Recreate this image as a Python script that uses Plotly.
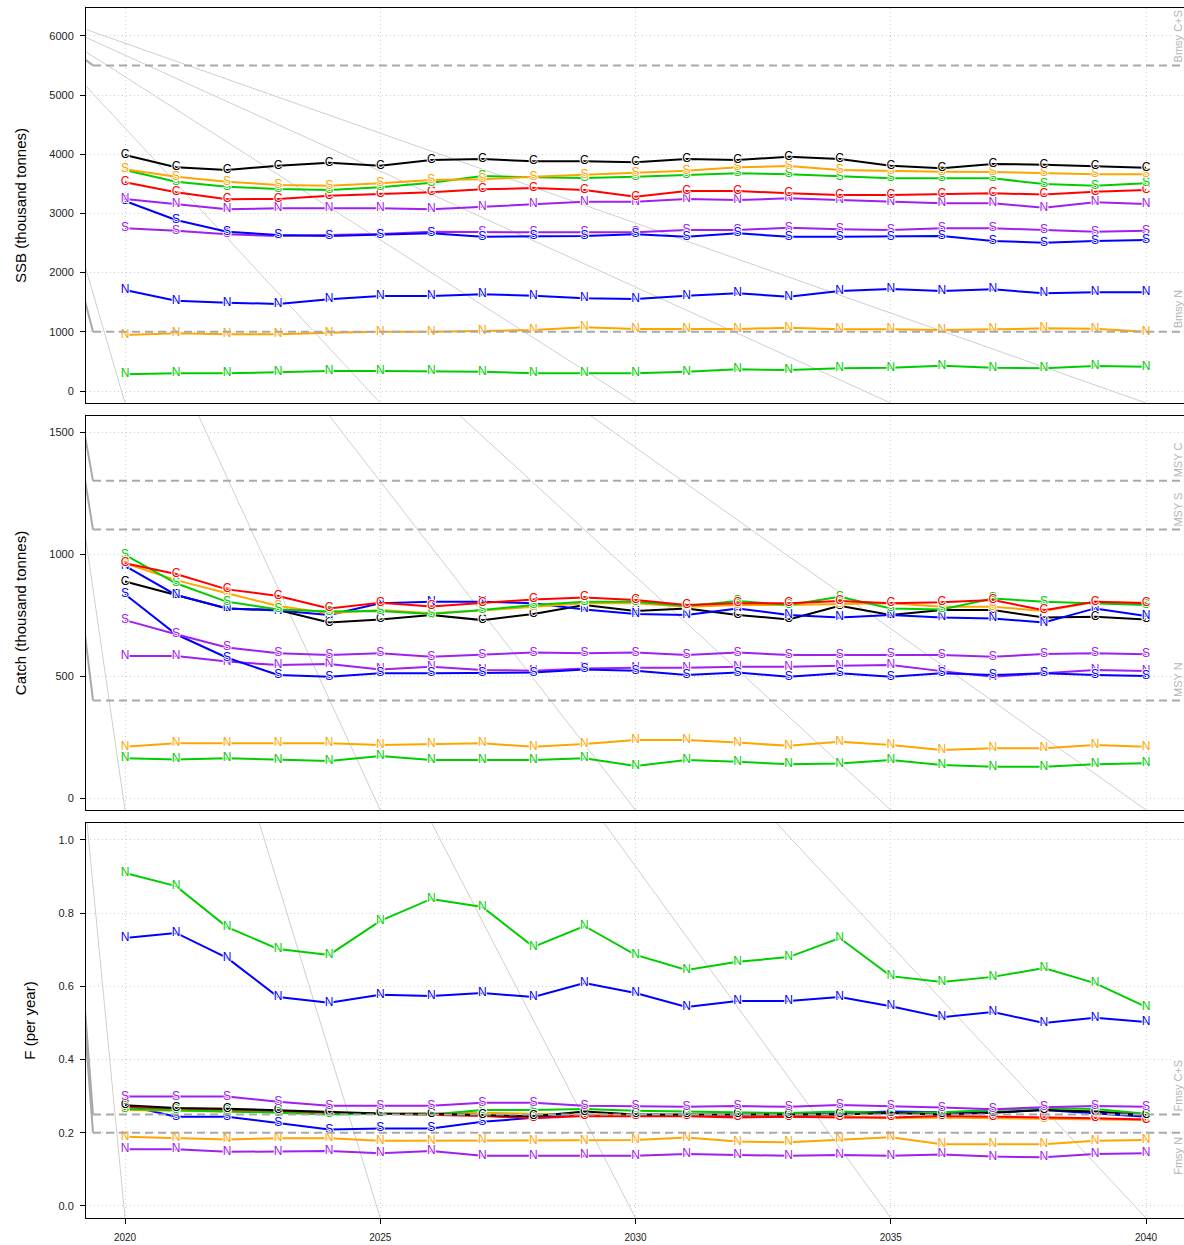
import plotly.graph_objects as go
from plotly.subplots import make_subplots

YEARS = list(range(2020, 2041))
X_TICKS = [2020, 2025, 2030, 2035, 2040]

# ---------------- SSB (thousand tonnes) ----------------
SSB_BLACK_C = [3986, 3779, 3733, 3806, 3857, 3806, 3902, 3919, 3880, 3880, 3863, 3919, 3902, 3958, 3919, 3806, 3762, 3834, 3823, 3800, 3772]
SSB_RED_C = [3525, 3356, 3238, 3245, 3300, 3322, 3356, 3406, 3429, 3395, 3283, 3378, 3378, 3339, 3311, 3311, 3322, 3339, 3320, 3367, 3395]
SSB_ORANGE_S = [3745, 3620, 3536, 3480, 3468, 3508, 3564, 3575, 3620, 3654, 3677, 3722, 3778, 3800, 3733, 3716, 3705, 3700, 3677, 3660, 3660]
SSB_GREEN_S = [3733, 3536, 3451, 3412, 3395, 3440, 3519, 3632, 3609, 3598, 3620, 3648, 3677, 3660, 3620, 3592, 3592, 3592, 3497, 3468, 3508]
SSB_BLUE_S = [3209, 2889, 2691, 2635, 2618, 2635, 2663, 2607, 2618, 2618, 2646, 2607, 2663, 2607, 2607, 2607, 2618, 2534, 2505, 2534, 2551]
SSB_PURPLE_S = [2748, 2708, 2646, 2618, 2635, 2652, 2691, 2680, 2680, 2680, 2680, 2720, 2720, 2759, 2731, 2720, 2748, 2748, 2720, 2691, 2708]
SSB_ORANGE_N = [946, 974, 957, 957, 985, 1002, 1002, 1013, 1030, 1075, 1047, 1047, 1047, 1069, 1041, 1041, 1030, 1041, 1058, 1052, 1002]
SSB_GREEN_N = [281, 298, 298, 315, 338, 338, 338, 326, 298, 298, 298, 326, 366, 355, 383, 394, 428, 394, 383, 422, 411]
SSB_BLUE_N = [1706, 1525, 1492, 1470, 1549, 1605, 1605, 1633, 1610, 1566, 1554, 1610, 1650, 1593, 1689, 1723, 1689, 1717, 1650, 1667, 1667]
SSB_PURPLE_N = [3243, 3153, 3069, 3086, 3086, 3086, 3069, 3114, 3153, 3198, 3198, 3243, 3226, 3255, 3226, 3198, 3170, 3170, 3097, 3187, 3159]

# ---------------- Catch (thousand tonnes) ----------------
CATCH_BLACK_C = [887, 832, 777, 770, 719, 732, 750, 729, 754, 791, 766, 777, 750, 732, 788, 750, 770, 770, 740, 743, 732]
CATCH_RED_C = [962, 918, 855, 828, 777, 800, 785, 800, 814, 822, 811, 791, 798, 798, 807, 798, 802, 811, 770, 804, 798]
CATCH_ORANGE_S = [962, 893, 839, 787, 757, 770, 757, 768, 784, 798, 798, 784, 791, 791, 795, 798, 784, 784, 766, 804, 800]
CATCH_GREEN_S = [996, 880, 804, 773, 764, 766, 754, 770, 791, 804, 804, 787, 807, 791, 825, 777, 773, 818, 804, 798, 791]
CATCH_BLUE_S = [835, 671, 575, 504, 497, 511, 511, 511, 514, 527, 522, 504, 514, 497, 511, 497, 511, 504, 511, 504, 500]
CATCH_PURPLE_S = [729, 671, 617, 593, 586, 593, 579, 586, 596, 593, 596, 586, 596, 586, 586, 589, 586, 579, 590, 593, 589]
CATCH_ORANGE_N = [210, 224, 224, 224, 224, 217, 221, 224, 210, 221, 238, 238, 227, 214, 231, 217, 197, 204, 204, 217, 210]
CATCH_GREEN_N = [163, 158, 163, 156, 152, 172, 156, 156, 156, 163, 131, 156, 149, 138, 141, 156, 135, 128, 128, 138, 142]
CATCH_BLUE_N = [951, 832, 777, 768, 750, 798, 804, 804, 798, 773, 754, 750, 777, 750, 740, 750, 740, 736, 719, 777, 746]
CATCH_PURPLE_N = [582, 582, 559, 545, 549, 527, 538, 525, 522, 531, 534, 534, 538, 538, 542, 545, 520, 497, 511, 525, 520]

# ---------------- F (per year) ----------------
F_BLACK_C = [0.275, 0.268, 0.266, 0.262, 0.256, 0.253, 0.252, 0.248, 0.245, 0.258, 0.250, 0.250, 0.250, 0.248, 0.250, 0.254, 0.250, 0.255, 0.262, 0.258, 0.248]
F_RED_C = [0.270, 0.266, 0.264, 0.260, 0.255, 0.252, 0.250, 0.246, 0.240, 0.246, 0.245, 0.245, 0.242, 0.244, 0.242, 0.242, 0.246, 0.244, 0.244, 0.240, 0.236]
F_ORANGE_S = [0.262, 0.260, 0.260, 0.258, 0.254, 0.252, 0.253, 0.255, 0.252, 0.250, 0.247, 0.249, 0.247, 0.245, 0.245, 0.240, 0.242, 0.240, 0.238, 0.238, 0.235]
F_GREEN_S = [0.265, 0.262, 0.260, 0.255, 0.250, 0.252, 0.250, 0.262, 0.262, 0.265, 0.260, 0.258, 0.255, 0.254, 0.258, 0.254, 0.256, 0.262, 0.268, 0.265, 0.252]
F_BLUE_S = [0.276, 0.244, 0.244, 0.226, 0.209, 0.212, 0.212, 0.230, 0.241, 0.249, 0.246, 0.246, 0.246, 0.249, 0.253, 0.258, 0.256, 0.256, 0.262, 0.253, 0.244]
F_PURPLE_S = [0.299, 0.299, 0.299, 0.285, 0.274, 0.274, 0.274, 0.282, 0.282, 0.274, 0.273, 0.271, 0.273, 0.271, 0.276, 0.273, 0.269, 0.264, 0.270, 0.273, 0.271]
F_ORANGE_N = [0.189, 0.185, 0.182, 0.185, 0.185, 0.178, 0.178, 0.180, 0.178, 0.178, 0.180, 0.187, 0.176, 0.174, 0.182, 0.188, 0.169, 0.169, 0.169, 0.178, 0.180]
F_GREEN_N = [0.910, 0.874, 0.762, 0.702, 0.686, 0.779, 0.839, 0.817, 0.708, 0.765, 0.686, 0.645, 0.667, 0.680, 0.732, 0.628, 0.612, 0.626, 0.650, 0.609, 0.544]
F_BLUE_N = [0.732, 0.746, 0.678, 0.571, 0.555, 0.577, 0.574, 0.582, 0.571, 0.609, 0.582, 0.544, 0.560, 0.560, 0.571, 0.546, 0.516, 0.530, 0.500, 0.514, 0.503]
F_PURPLE_N = [0.155, 0.155, 0.148, 0.148, 0.150, 0.144, 0.150, 0.137, 0.137, 0.139, 0.137, 0.142, 0.139, 0.137, 0.139, 0.137, 0.141, 0.135, 0.133, 0.142, 0.144]

# reference levels
SSB_REFS = [5500, 1000]
SSB_REF_LABELS = ["Bmsy C+S", "Bmsy N"]
CATCH_REFS = [1300, 1100, 400]
CATCH_REF_LABELS = ["MSY C", "MSY S", "MSY N"]
F_REFS = [0.25, 0.20]
F_REF_LABELS = ["Fmsy C+S", "Fmsy N"]

Y_TITLES = ["SSB (thousand tonnes)", "Catch (thousand tonnes)", "F (per year)"]

COL = {"black": "#000000", "red": "#ff0000", "orange": "#ffa500",
       "green": "#00cd00", "blue": "#0000ff", "purple": "#a020f0"}

panels = [
    [("green", "N", SSB_GREEN_N), ("orange", "N", SSB_ORANGE_N), ("blue", "N", SSB_BLUE_N),
     ("purple", "S", SSB_PURPLE_S), ("blue", "S", SSB_BLUE_S), ("purple", "N", SSB_PURPLE_N),
     ("red", "C", SSB_RED_C), ("green", "S", SSB_GREEN_S), ("orange", "S", SSB_ORANGE_S),
     ("black", "C", SSB_BLACK_C)],
    [("green", "N", CATCH_GREEN_N), ("orange", "N", CATCH_ORANGE_N), ("purple", "N", CATCH_PURPLE_N),
     ("blue", "S", CATCH_BLUE_S), ("purple", "S", CATCH_PURPLE_S), ("black", "C", CATCH_BLACK_C),
     ("blue", "N", CATCH_BLUE_N), ("orange", "S", CATCH_ORANGE_S), ("green", "S", CATCH_GREEN_S),
     ("red", "C", CATCH_RED_C)],
    [("purple", "N", F_PURPLE_N), ("orange", "N", F_ORANGE_N), ("blue", "S", F_BLUE_S),
     ("orange", "S", F_ORANGE_S), ("red", "C", F_RED_C), ("green", "S", F_GREEN_S),
     ("black", "C", F_BLACK_C), ("purple", "S", F_PURPLE_S), ("blue", "N", F_BLUE_N),
     ("green", "N", F_GREEN_N)],
]

# ---------------- geometry (page pixels; body margin removed in post_script) ----------------
W, H = 1184, 1245
PLOT_L, PLOT_R, PLOT_T, PLOT_B = 86, 1184, 8, 1218
ML, MR, MT, MB = PLOT_L, W - PLOT_R, PLOT_T, H - PLOT_B
X_RANGE = [2019.236, 2040.744]
Y_RANGES = [[-202.7, 6469.6], [-49.2, 1565.6], [-0.0328, 1.0464]]
PANEL_PX = [(8, 403), (416, 810), (823, 1218)]   # top, bottom pixel rows
Y_TICKS = [list(range(0, 6001, 1000)), [0, 500, 1000, 1500], [0.0, 0.2, 0.4, 0.6, 0.8, 1.0]]
Y_TICKTEXT = [None, None, ["0.0", "0.2", "0.4", "0.6", "0.8", "1.0"]]

plot_h = PLOT_B - PLOT_T
domains = [[(PLOT_B - b) / plot_h, (PLOT_B - t) / plot_h] for (t, b) in PANEL_PX]

def px_to_x(px):
    return X_RANGE[0] + (px - PLOT_L) / (PLOT_R - PLOT_L) * (X_RANGE[1] - X_RANGE[0])

def py_to_y(py, i):
    t, b = PANEL_PX[i]
    y0, y1 = Y_RANGES[i]
    return y0 + (b - py) / (b - t) * (y1 - y0)

fig = make_subplots(rows=3, cols=1, shared_xaxes=False)

FONT = "Liberation Sans, Arial, Helvetica, sans-serif"
HALO = "white 1px 0px 0px, white -1px 0px 0px, white 0px 1px 0px, white 0px -1px 0px"

for i, series in enumerate(panels):
    r = i + 1
    for colname, letter, vals in series:
        fig.add_trace(go.Scatter(
            x=YEARS, y=vals, mode="lines+text", text=[letter] * len(YEARS),
            textposition="middle center",
            textfont=dict(color=COL[colname], size=12, family=FONT, shadow=HALO),
            line=dict(color=COL[colname], width=2), showlegend=False,
            hoverinfo="x+y", cliponaxis=True), row=r, col=1)

shapes = []
corner_x = px_to_x(8)
ref_start_x = px_to_x(93)
refs_all = [(SSB_REFS, SSB_REF_LABELS), (CATCH_REFS, CATCH_REF_LABELS), (F_REFS, F_REF_LABELS)]
for i in range(3):
    xr = "x" if i == 0 else f"x{i+1}"
    yr = "y" if i == 0 else f"y{i+1}"
    corner_y = py_to_y(2, i)
    for t in X_TICKS:
        shapes.append(dict(type="line", xref=xr, yref=yr, x0=corner_x, y0=corner_y,
                           x1=t, y1=Y_RANGES[i][0], layer="below",
                           line=dict(color="#cfcfcf", width=1)))
    refs, labels = refs_all[i]
    for k, (lev, lab) in enumerate(zip(refs, labels)):
        shapes.append(dict(type="line", xref=xr, yref=yr, x0=corner_x, y0=corner_y,
                           x1=ref_start_x, y1=lev, layer="above",
                           line=dict(color="#a9a9a9", width=2)))
        shapes.append(dict(type="line", xref=xr, yref=yr, x0=ref_start_x, y0=lev,
                           x1=X_RANGE[1], y1=lev, layer="above",
                           line=dict(color="#a9a9a9", width=2, dash="8px,5px")))
        below = (i == 2 and k == 1)
        fig.add_annotation(xref="paper", yref=yr, x=(1178 - PLOT_L) / (PLOT_R - PLOT_L), y=lev,
                           text=lab, textangle=-90, showarrow=False,
                           xanchor="center", yanchor="top" if below else "bottom",
                           yshift=-3 if below else 2,
                           bgcolor="white", borderpad=0,
                           font=dict(size=11, color="#b4b4b4", family=FONT))

fig.update_layout(shapes=shapes)

for i in range(3):
    r = i + 1
    fig.update_xaxes(row=r, col=1, range=X_RANGE, domain=[0, 1], tickvals=X_TICKS,
                     showticklabels=(i == 2), ticks="outside" if i == 2 else "",
                     ticklen=5, tickcolor="#000", ticklabelstandoff=5,
                     tickfont=dict(size=10, color="#222", family=FONT),
                     showgrid=True, gridcolor="#d0d0d0", griddash="1px,3px", gridwidth=1,
                     showline=True, mirror=True, linecolor="#000", linewidth=1, zeroline=False,
                     automargin=False)
    fig.update_yaxes(row=r, col=1, range=Y_RANGES[i], domain=domains[i], tickvals=Y_TICKS[i],
                     ticktext=Y_TICKTEXT[i], ticks="outside", ticklen=5, tickcolor="#000",
                     ticklabelstandoff=4,
                     tickfont=dict(size=11, color="#222", family=FONT),
                     showgrid=True, gridcolor="#d0d0d0", griddash="1px,3px", gridwidth=1,
                     showline=True, mirror=False, linecolor="#000", linewidth=1, zeroline=False,
                     automargin=False,
                     title=dict(text=Y_TITLES[i], font=dict(size=15, color="#000", family=FONT),
                                standoff=19))

fig.update_layout(width=W, height=H, margin=dict(l=ML, r=MR, t=MT, b=MB),
                  paper_bgcolor="white", plot_bgcolor="white", showlegend=False,
                  font=dict(family=FONT))

POST = ("document.body.style.margin='0';document.body.style.overflow='hidden';"
        "document.documentElement.style.overflow='hidden';")
fig.write_html("out.html", post_script=POST, config={"displayModeBar": False})
